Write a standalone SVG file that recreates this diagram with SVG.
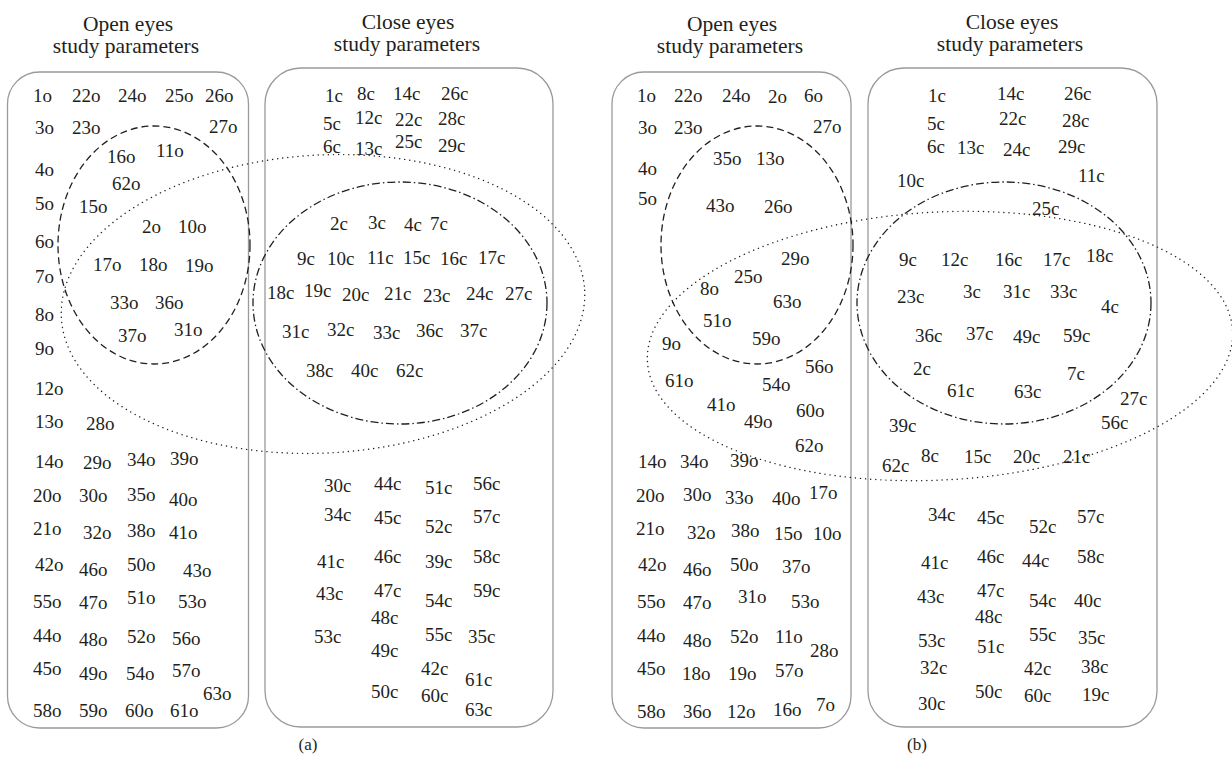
<svg xmlns="http://www.w3.org/2000/svg" width="1232" height="765" viewBox="0 0 1232 765">
<style>
text{font-family:"Liberation Serif","DejaVu Serif",serif;fill:#231f20}
.t{font-size:21.5px;text-anchor:middle}
.l{font-size:19px}
.cap{font-size:17px;text-anchor:middle}
.box{fill:none;stroke:#9a9a9a;stroke-width:1.3}
.dash{fill:none;stroke:#231f20;stroke-width:1.3;stroke-dasharray:7 4}
.dd{fill:none;stroke:#231f20;stroke-width:1.3;stroke-dasharray:8 3 1.5 3}
.dot{fill:none;stroke:#231f20;stroke-width:1.4;stroke-dasharray:0.1 5;stroke-linecap:round}
</style>
<rect width="1232" height="765" fill="#fff"/>
<g id="panel-a">
<g id="a-open">
<text class="t" x="128" y="31">Open eyes</text>
<text class="t" x="126" y="53">study parameters</text>
<rect class="box" x="7.5" y="72" width="241" height="656" rx="32"/>
<g class="l">
<text x="33" y="102">1o</text><text x="72" y="102">22o</text><text x="118" y="102">24o</text><text x="165" y="102">25o</text><text x="205" y="102">26o</text>
<text x="35" y="134">3o</text><text x="72" y="134">23o</text><text x="209" y="133">27o</text>
<text x="107" y="163">16o</text><text x="156" y="157">11o</text>
<text x="35" y="176">4o</text><text x="112" y="190">62o</text>
<text x="35" y="210">5o</text><text x="79" y="213">15o</text>
<text x="142" y="233">2o</text><text x="178" y="233">10o</text>
<text x="35" y="248">6o</text>
<text x="93" y="271">17o</text><text x="139" y="271">18o</text><text x="185" y="272">19o</text>
<text x="35" y="283">7o</text>
<text x="110" y="309">33o</text><text x="155" y="309">36o</text>
<text x="35" y="321">8o</text>
<text x="118" y="342">37o</text><text x="174" y="336">31o</text>
<text x="35" y="355">9o</text>
<text x="35" y="395">12o</text>
<text x="35" y="428">13o</text><text x="86" y="430">28o</text>
<text x="35" y="468">14o</text><text x="83" y="469">29o</text><text x="127" y="466">34o</text><text x="170" y="465">39o</text>
<text x="33" y="502">20o</text><text x="79" y="502">30o</text><text x="127" y="501">35o</text><text x="169" y="506">40o</text>
<text x="33" y="535">21o</text><text x="83" y="539">32o</text><text x="127" y="537">38o</text><text x="169" y="539">41o</text>
<text x="35" y="571">42o</text><text x="79" y="576">46o</text><text x="127" y="571">50o</text><text x="183" y="577">43o</text>
<text x="33" y="608">55o</text><text x="79" y="609">47o</text><text x="127" y="604">51o</text><text x="178" y="608">53o</text>
<text x="33" y="642">44o</text><text x="79" y="646">48o</text><text x="127" y="643">52o</text><text x="172" y="645">56o</text>
<text x="33" y="675">45o</text><text x="79" y="680">49o</text><text x="126" y="680">54o</text><text x="172" y="677">57o</text>
<text x="203" y="700">63o</text>
<text x="33" y="717">58o</text><text x="79" y="717">59o</text><text x="125" y="717">60o</text><text x="170" y="717">61o</text>
</g>
</g>
<g id="a-close">
<text class="t" x="408" y="29">Close eyes</text>
<text class="t" x="407" y="51">study parameters</text>
<rect class="box" x="265" y="68" width="288" height="659" rx="36"/>
<g class="l">
<text x="325" y="102">1c</text><text x="357" y="100">8c</text><text x="393" y="100">14c</text><text x="441" y="100">26c</text>
<text x="323" y="130">5c</text><text x="355" y="124">12c</text><text x="395" y="126">22c</text><text x="438" y="125">28c</text>
<text x="323" y="153">6c</text><text x="355" y="155">13c</text><text x="395" y="148">25c</text><text x="438" y="152">29c</text>
<text x="330" y="230">2c</text><text x="368" y="229">3c</text><text x="404" y="231">4c</text><text x="430" y="230">7c</text>
<text x="297" y="265">9c</text><text x="327" y="265">10c</text><text x="367" y="264">11c</text><text x="403" y="264">15c</text><text x="440" y="265">16c</text><text x="478" y="264">17c</text>
<text x="267" y="299">18c</text><text x="304" y="297">19c</text><text x="342" y="301">20c</text><text x="384" y="300">21c</text><text x="423" y="302">23c</text><text x="466" y="300">24c</text><text x="505" y="300">27c</text>
<text x="282" y="338">31c</text><text x="327" y="336">32c</text><text x="373" y="339">33c</text><text x="416" y="337">36c</text><text x="460" y="337">37c</text>
<text x="306" y="377">38c</text><text x="351" y="377">40c</text><text x="396" y="377">62c</text>
<text x="324" y="492">30c</text><text x="374" y="490">44c</text><text x="425" y="494">51c</text><text x="473" y="490">56c</text>
<text x="324" y="521">34c</text><text x="374" y="524">45c</text><text x="425" y="533">52c</text><text x="473" y="523">57c</text>
<text x="317" y="568">41c</text><text x="374" y="563">46c</text><text x="425" y="568">39c</text><text x="473" y="563">58c</text>
<text x="316" y="600">43c</text><text x="374" y="597">47c</text><text x="425" y="607">54c</text><text x="473" y="597">59c</text>
<text x="371" y="624">48c</text>
<text x="314" y="643">53c</text><text x="425" y="641">55c</text><text x="468" y="643">35c</text>
<text x="371" y="657">49c</text>
<text x="421" y="675">42c</text><text x="465" y="686">61c</text>
<text x="371" y="698">50c</text><text x="421" y="702">60c</text>
<text x="465" y="716">63c</text>
</g>
</g>
<g id="a-sets">
<ellipse class="dash" cx="154" cy="245" rx="96" ry="119"/>
<ellipse class="dd" cx="400" cy="303" rx="147" ry="121"/>
<ellipse class="dot" cx="323" cy="304" rx="262" ry="149" transform="rotate(-3 323 304)"/>
</g>
<text class="cap" x="308" y="750">(a)</text>
</g>
<g id="panel-b">
<g id="b-open">
<text class="t" x="732" y="31">Open eyes</text>
<text class="t" x="730" y="53">study parameters</text>
<rect class="box" x="612" y="72" width="239" height="656" rx="32"/>
<g class="l">
<text x="637" y="102">1o</text><text x="674" y="102">22o</text><text x="722" y="102">24o</text><text x="768" y="103">2o</text><text x="804" y="102">6o</text>
<text x="638" y="134">3o</text><text x="674" y="134">23o</text><text x="813" y="133">27o</text>
<text x="713" y="165">35o</text><text x="756" y="165">13o</text>
<text x="638" y="175">4o</text>
<text x="638" y="205">5o</text><text x="706" y="212">43o</text><text x="764" y="213">26o</text>
<text x="781" y="265">29o</text>
<text x="734" y="283">25o</text>
<text x="700" y="295">8o</text>
<text x="773" y="308">63o</text>
<text x="703" y="327">51o</text>
<text x="752" y="345">59o</text>
<text x="662" y="350">9o</text>
<text x="805" y="373">56o</text>
<text x="665" y="387">61o</text>
<text x="762" y="391">54o</text>
<text x="707" y="411">41o</text>
<text x="796" y="417">60o</text>
<text x="744" y="428">49o</text>
<text x="795" y="452">62o</text>
<text x="638" y="468">14o</text><text x="680" y="468">34o</text><text x="730" y="467">39o</text>
<text x="636" y="502">20o</text><text x="683" y="501">30o</text><text x="725" y="504">33o</text><text x="772" y="505">40o</text><text x="809" y="499">17o</text>
<text x="636" y="535">21o</text><text x="687" y="539">32o</text><text x="731" y="537">38o</text><text x="774" y="540">15o</text><text x="813" y="540">10o</text>
<text x="638" y="571">42o</text><text x="683" y="576">46o</text><text x="730" y="571">50o</text><text x="782" y="573">37o</text>
<text x="637" y="608">55o</text><text x="683" y="609">47o</text><text x="738" y="603">31o</text><text x="791" y="608">53o</text>
<text x="637" y="642">44o</text><text x="683" y="647">48o</text><text x="730" y="643">52o</text><text x="775" y="643">11o</text><text x="810" y="657">28o</text>
<text x="637" y="675">45o</text><text x="682" y="680">18o</text><text x="728" y="680">19o</text><text x="775" y="677">57o</text>
<text x="637" y="718">58o</text><text x="683" y="718">36o</text><text x="727" y="718">12o</text><text x="773" y="716">16o</text><text x="816" y="711">7o</text>
</g>
</g>
<g id="b-close">
<text class="t" x="1012" y="29">Close eyes</text>
<text class="t" x="1010" y="51">study parameters</text>
<rect class="box" x="868" y="68" width="289" height="659" rx="36"/>
<g class="l">
<text x="928" y="102">1c</text><text x="997" y="100">14c</text><text x="1064" y="100">26c</text>
<text x="927" y="130">5c</text><text x="999" y="125">22c</text><text x="1062" y="127">28c</text>
<text x="927" y="153">6c</text><text x="957" y="154">13c</text><text x="1003" y="156">24c</text><text x="1058" y="153">29c</text>
<text x="897" y="187">10c</text><text x="1078" y="182">11c</text>
<text x="1032" y="215">25c</text>
<text x="899" y="266">9c</text><text x="941" y="266">12c</text><text x="995" y="266">16c</text><text x="1043" y="266">17c</text><text x="1086" y="262">18c</text>
<text x="897" y="303">23c</text><text x="963" y="298">3c</text><text x="1003" y="298">31c</text><text x="1050" y="298">33c</text>
<text x="1101" y="313">4c</text>
<text x="915" y="342">36c</text><text x="966" y="340">37c</text><text x="1013" y="343">49c</text><text x="1063" y="342">59c</text>
<text x="913" y="375">2c</text><text x="1067" y="380">7c</text>
<text x="947" y="397">61c</text><text x="1014" y="398">63c</text>
<text x="1120" y="405">27c</text>
<text x="889" y="432">39c</text><text x="1101" y="429">56c</text>
<text x="921" y="462">8c</text><text x="964" y="463">15c</text><text x="1013" y="463">20c</text><text x="1063" y="463">21c</text>
<text x="882" y="472">62c</text>
<text x="928" y="521">34c</text><text x="977" y="524">45c</text><text x="1029" y="533">52c</text><text x="1077" y="523">57c</text>
<text x="921" y="569">41c</text><text x="977" y="563">46c</text><text x="1022" y="567">44c</text><text x="1077" y="563">58c</text>
<text x="917" y="603">43c</text><text x="977" y="597">47c</text><text x="1029" y="607">54c</text><text x="1074" y="607">40c</text>
<text x="975" y="623">48c</text>
<text x="918" y="647">53c</text><text x="1029" y="641">55c</text><text x="1078" y="644">35c</text>
<text x="977" y="653">51c</text>
<text x="920" y="674">32c</text><text x="1024" y="675">42c</text><text x="1081" y="673">38c</text>
<text x="975" y="698">50c</text><text x="1024" y="702">60c</text><text x="1082" y="701">19c</text>
<text x="918" y="710">30c</text>
</g>
</g>
<g id="b-sets">
<ellipse class="dash" cx="757" cy="245" rx="96" ry="119"/>
<ellipse class="dd" cx="1004" cy="303" rx="147" ry="121"/>
<ellipse class="dot" cx="940" cy="346" rx="293" ry="134" transform="rotate(-3 940 346)"/>
</g>
<text class="cap" x="917" y="750">(b)</text>
</g>
</svg>
